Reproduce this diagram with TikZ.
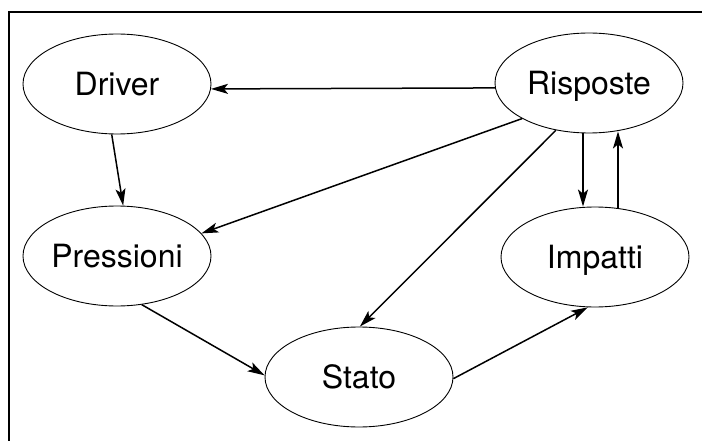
\documentclass[tikz,border=0pt]{standalone}
\usepackage{fontspec}
\setmainfont{TeX Gyre Heros}
\usetikzlibrary{arrows.meta,shapes.geometric}
\tikzset{>={Stealth[length=17pt,width=10pt,inset=4pt]},
  stadio/.style={ellipse,draw,line width=0.9pt,minimum width=188pt,minimum height=100pt,inner sep=0pt,
    font=\fontsize{32}{38}\selectfont,text height=23pt,text depth=0pt},
  freccia/.style={->,line width=1.5pt}}

\begin{document}
\begin{tikzpicture}[x=1pt,y=-1pt]
    \useasboundingbox (0,0) rectangle (702,441);
    \draw [line width=1.6pt] (9,441) -- (9,12) -- (702,12);
    \node [stadio] (driver) at (117,84) {Driver};
    \node [stadio] (risposte) at (589,83) {Risposte};
    \node [stadio] (pressioni) at (117,256) {Pressioni};
    \node [stadio] (stato) at (359,377) {Stato};
    \node [stadio] (impatti) at (595,257) {Impatti};
    \draw [freccia] (risposte.183) -- (driver.357);
    \draw [freccia] (driver.264) -- (pressioni.83);
    \draw [freccia] (risposte.208) -- (pressioni.15);
    \draw [freccia] (risposte.235) -- (stato.89);
    \draw [freccia] ([xshift=-6pt]risposte.south) -- ([xshift=-12pt]impatti.north);
    \draw [freccia] ([xshift=23pt,yshift=-1.5pt]impatti.north) -- ([xshift=29pt,yshift=2pt]risposte.south);
    \draw [freccia] (pressioni.297) -- (stato.179);
    \draw [freccia] (stato.359) -- (impatti.262);
  \end{tikzpicture}
\end{document}
